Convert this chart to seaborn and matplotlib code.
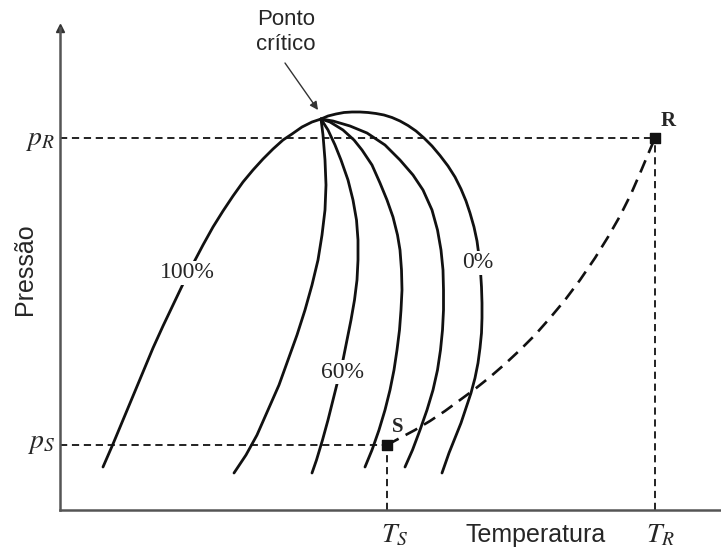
import matplotlib
matplotlib.use("Agg")
import matplotlib.pyplot as plt
import seaborn as sns

sns.set_style("white")
plt.rcParams["font.family"] = ["Liberation Sans", "DejaVu Sans"]
plt.rcParams["mathtext.fontset"] = "stix"

# ---- data (temperature = horizontal, pressure = vertical,
#      vertical axis is stored top-down and drawn on an inverted scale) ----
q100_T = [321, 312, 302, 292, 283, 273, 263, 253, 243, 233, 223, 213, 203, 193,
          183, 173, 163, 153, 143, 133, 123, 113, 103]
q100_P = [119, 122, 127, 134, 140, 149, 159, 170, 182, 196, 211, 227, 245, 264,
          284, 305, 326, 348, 372, 396, 420, 444, 467]

q80_T = [321, 323, 325, 326, 325, 322, 318, 312, 305, 297, 288, 279, 268, 257, 246, 234]
q80_P = [119, 135, 160, 185, 210, 235, 260, 285, 310, 335, 360, 385, 410, 435, 455, 473]

q60_T = [321, 328, 335, 341, 348, 353, 356.5, 358, 358, 357, 354.5, 351, 347, 343,
         338, 333, 328, 322.5, 316.5, 312]
q60_P = [119, 130, 145, 160, 180, 200, 220, 240, 260, 280, 300, 320, 340, 360,
         380, 400, 420, 440, 460, 473]

q40_T = [321, 330, 343, 354, 362, 372, 380, 387, 393, 397.5, 400, 401.5, 402, 401,
         399.5, 397, 394, 390, 385, 379, 372, 365]
q40_P = [119, 122, 130, 140, 150, 165, 183, 200, 217, 235, 250, 270, 290, 310,
         330, 350, 370, 390, 410, 430, 450, 467]

q20_T = [321, 333, 350, 367, 385, 400, 413, 423, 432, 437.5, 441, 443, 443.5, 443.5,
         442.5, 440.5, 437.5, 433, 427, 420, 412.5, 405]
q20_P = [119, 121, 126, 133, 145, 160, 175, 190, 210, 230, 250, 270, 290, 310,
         330, 350, 370, 390, 410, 430, 450, 467]

q0_T = [321, 328, 336, 344, 352, 360, 368, 376, 384, 392, 400, 408, 416, 424, 432,
        440, 448, 455, 461, 466, 470, 474, 477, 479, 480.5, 481.5, 482, 482, 481.5,
        480, 478, 475, 471, 466, 461, 455, 449, 442]
q0_P = [119, 116, 114, 112.5, 112, 112, 112.5, 113.5, 115, 117.5, 121, 125.5, 131,
        138, 146, 155.5, 166, 177, 189, 201, 213, 227, 241, 256, 271, 287, 303, 318,
        333, 348, 363, 378, 393, 408, 423, 438, 453, 473]

# process path S -> R
path_T = [387, 400, 415, 430, 445, 460, 475, 490, 505, 520, 535, 550, 565, 580,
          595, 608, 620, 631, 641, 649, 655]
path_P = [445, 438, 430, 421, 411, 400, 389, 377, 364, 350, 335, 318, 300, 280,
          258, 237, 216, 194, 171, 152, 138]

S_T, S_P = 387, 445
R_T, R_P = 655, 138
crit_T, crit_P = 318, 110

quality_labels = ["100%", "60%", "0%"]
quality_label_T = [187, 343, 478]
quality_label_P = [273, 372, 263]

# ---- figure ----
fig = plt.figure(figsize=(7.21, 5.5), dpi=100)
ax = fig.add_axes([60 / 721, 40 / 550, 661 / 721, 482 / 550])
ax.set_xlim(60, 721)
ax.set_ylim(510, 28)
ax.set_xticks([])
ax.set_yticks([])
for s in ["top", "right"]:
    ax.spines[s].set_visible(False)
for s in ["left", "bottom"]:
    ax.spines[s].set_color("#555555")
    ax.spines[s].set_linewidth(1.8)
ax.plot(60, 28, marker="^", ms=6, color="#333333", clip_on=False)

curve_kw = dict(color="#111111", linewidth=2.0, sort=False, estimator=None, legend=False)
for T, P in [(q100_T, q100_P), (q80_T, q80_P), (q60_T, q60_P),
             (q40_T, q40_P), (q20_T, q20_P), (q0_T, q0_P)]:
    sns.lineplot(x=T, y=P, ax=ax, **curve_kw)

# process path (dashed curve)
sns.lineplot(x=path_T, y=path_P, ax=ax, color="#111111", linewidth=1.9,
             linestyle=(0, (5, 3)), sort=False, estimator=None, legend=False)

# reference dashed lines
ref_kw = dict(color="#111111", linewidth=1.3, linestyle=(0, (4, 2.6)))
ax.plot([60, R_T], [R_P, R_P], **ref_kw)
ax.plot([R_T, R_T], [510, R_P], **ref_kw)
ax.plot([60, S_T], [S_P, S_P], **ref_kw)
ax.plot([S_T, S_T], [510, S_P], **ref_kw)

# state points
ax.scatter([S_T, R_T], [S_P, R_P], marker="s", s=50, color="#111111", zorder=5)

# quality labels
for lab, T, P in zip(quality_labels, quality_label_T, quality_label_P):
    ax.text(T, P, lab, ha="center", va="center", fontsize=17,
            family=["Liberation Serif"], zorder=6,
            bbox=dict(facecolor="white", edgecolor="none", pad=1.0))

# point labels
ax.text(398, 427, "S", ha="center", va="center", fontsize=15,
        fontweight="bold", family=["Liberation Serif"])
ax.text(668, 121, "R", ha="center", va="center", fontsize=15,
        fontweight="bold", family=["Liberation Serif"])

# axis tick-like labels
ax.text(55, 140, r"$p_R$", ha="right", va="center", fontsize=20, clip_on=False)
ax.text(55, 443, r"$p_S$", ha="right", va="center", fontsize=20, clip_on=False)
ax.text(395, 535, r"$T_S$", ha="center", va="center", fontsize=20, clip_on=False)
ax.text(660, 535, r"$T_R$", ha="center", va="center", fontsize=20, clip_on=False)

# axis titles
ax.text(536, 542, "Temperatura", ha="center", va="baseline", fontsize=18, clip_on=False)
ax.text(25, 269, "Pressão", ha="center", va="center", rotation=90, fontsize=18,
        clip_on=False)

# critical point annotation
ax.text(286, 32, "Ponto\ncrítico", ha="center", va="center", fontsize=16,
        linespacing=1.2, clip_on=False)
ax.annotate("", xy=(crit_T, crit_P), xytext=(285, 63),
            arrowprops=dict(arrowstyle="-|>", color="#333333", lw=1.0,
                            mutation_scale=12, shrinkA=0, shrinkB=0),
            annotation_clip=False)

fig.savefig("out.png", dpi=100)
